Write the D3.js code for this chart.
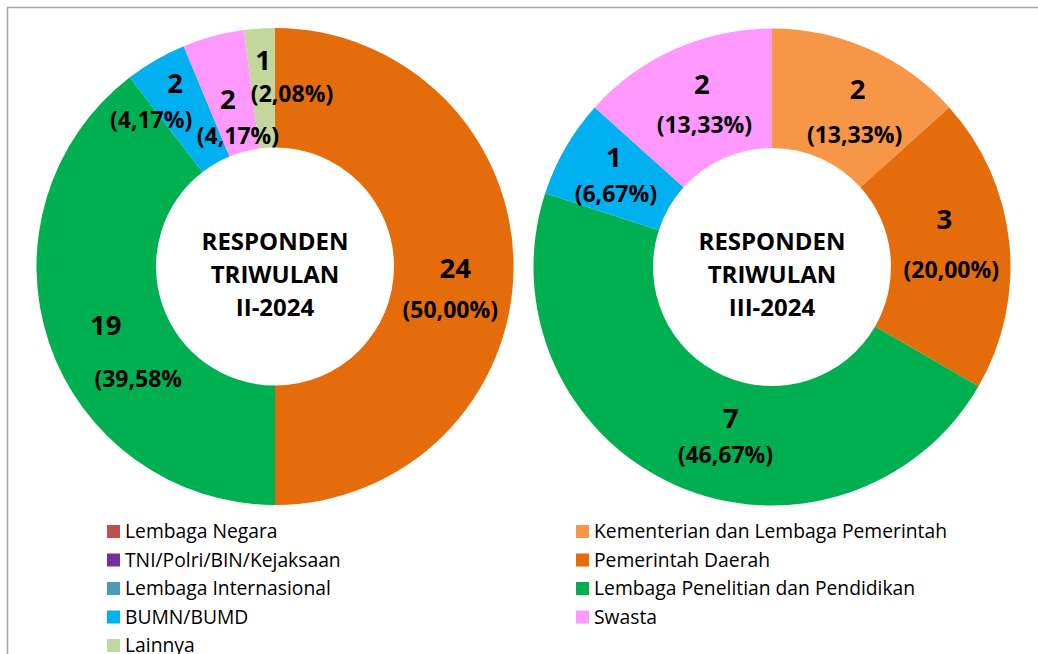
<!DOCTYPE html>
<html>
<head>
<meta charset="utf-8">
<script src="https://cdn.jsdelivr.net/npm/d3@7"></script>
<style>
  body { margin: 0; background: #fff; }
  svg  { display: block; font-family: "Open Sans", sans-serif; }
</style>
</head>
<body>
<svg id="chart"></svg>
<script>
// ── Data ─────────────────────────────────────────────────────────────────────
// Series order follows the Excel legend (row-major, two columns).
const CATEGORIES = [
  "Lembaga Negara",
  "Kementerian dan Lembaga Pemerintah",
  "TNI/Polri/BIN/Kejaksaan",
  "Pemerintah Daerah",
  "Lembaga Internasional",
  "Lembaga Penelitian dan Pendidikan",
  "BUMN/BUMD",
  "Swasta",
  "Lainnya"
];
const Q2_VALUES = [0, 0, 0, 24, 0, 19, 2, 2, 1];
const Q3_VALUES = [0, 2, 0, 3, 0, 7, 1, 2, 0];

// percentage labels as printed (the 39,58 one is cut off in the source)
const Q2_PCT_LABELS = ["", "", "", "(50,00%)", "", "(39,58%", "(4,17%)", "(4,17%)", "(2,08%)"];
const Q3_PCT_LABELS = ["", "(13,33%)", "", "(20,00%)", "", "(46,67%)", "(6,67%)", "(13,33%)", ""];

const Q2_TITLE = ["RESPONDEN", "TRIWULAN", "II-2024"];
const Q3_TITLE = ["RESPONDEN", "TRIWULAN", "III-2024"];

// ── Style ────────────────────────────────────────────────────────────────────
const COLORS = ["#C0504D", "#F79646", "#7030A0", "#E46C0A", "#4A9BB5",
                "#00B050", "#00B0F0", "#FF99FF", "#C3D69B"];
const color = d3.scaleOrdinal().domain(CATEGORIES).range(COLORS);

// Excel labels were dragged by hand: [numDx, numDy, pctDx, pctDy] from centroid
const Q2_NUDGE = { 3: [1.5, 11.5, -3.5, 51.5], 5: [0, 11, 32.5, 63],
                   6: [-10.5, -19, -34.5, 16], 7: [-0.8, 15, 9.2, 50], 8: [-0.3, -18.4, 28.7, 13.6] };
const Q3_NUDGE = { 1: [12.9, -4.9, 9.9, 39.1], 3: [-5.5, -19.3, 1.5, 29.7], 5: [31.6, -2.1, 26.1, 32.9],
                   6: [-3.4, -10.75, -1.4, 24.25], 7: [2.6, -9.9, 5.1, 29.1] };

const VW = 1038, VH = 654;
const R_OUT = 238.5, R_IN = 119;

const svg = d3.select("#chart").attr("width", VW).attr("height", VH);

// chart area frame (right/bottom edges fall outside the crop)
svg.append("rect")
  .attr("x", 7.5).attr("y", 7.5)
  .attr("width", VW + 20).attr("height", VH + 20)
  .attr("fill", "none").attr("stroke", "#A6A6A6").attr("stroke-width", 1.5);

const pie = d3.pie().sort(null).value(d => d.value);
const arc = d3.arc().innerRadius(R_IN).outerRadius(R_OUT);

function drawDonut(cx, cy, values, pctLabels, title, nudge) {
  const rows = CATEGORIES.map((c, i) => ({ cat: c, i, value: values[i], pct: pctLabels[i] }));
  const g = svg.append("g").attr("transform", `translate(${cx},${cy})`);

  const arcs = pie(rows);
  g.selectAll("path.slice")
    .data(arcs.filter(d => d.data.value > 0))
    .join("path")
    .attr("class", "slice")
    .attr("d", arc)
    .attr("fill", d => color(d.data.cat));

  // value + percentage labels
  const lbl = g.selectAll("g.lbl")
    .data(arcs.filter(d => d.data.value > 0))
    .join("g")
    .attr("class", "lbl")
    .attr("transform", d => `translate(${arc.centroid(d)})`);

  lbl.append("text")
    .attr("x", d => nudge[d.data.i][0])
    .attr("y", d => nudge[d.data.i][1])
    .attr("text-anchor", "middle")
    .attr("font-size", "27.5px").attr("font-weight", "bold").attr("fill", "#000")
    .text(d => d.data.value);

  lbl.append("text")
    .attr("x", d => nudge[d.data.i][2])
    .attr("y", d => nudge[d.data.i][3])
    .attr("text-anchor", "middle")
    .attr("font-size", "23px").attr("font-weight", "bold").attr("fill", "#000")
    .text(d => d.data.pct);

  // centre title
  g.append("text")
    .attr("text-anchor", "middle")
    .attr("font-size", "24px").attr("font-weight", "bold").attr("fill", "#000")
    .selectAll("tspan")
    .data(title)
    .join("tspan")
    .attr("x", 0)
    .attr("y", (d, i) => -17 + i * 33)
    .text(d => d);
}

drawDonut(275, 266.5, Q2_VALUES, Q2_PCT_LABELS, Q2_TITLE, Q2_NUDGE);
drawDonut(772, 267,   Q3_VALUES, Q3_PCT_LABELS, Q3_TITLE, Q3_NUDGE);

// ── Legend: two columns, filled row by row ───────────────────────────────────
const LEG = { x0: 107, colW: 469, y0: 531.5, rowH: 28.5, sw: 13 };
const leg = svg.append("g").selectAll("g")
  .data(CATEGORIES)
  .join("g")
  .attr("transform", (d, i) =>
    `translate(${LEG.x0 + (i % 2) * LEG.colW},${LEG.y0 + Math.floor(i / 2) * LEG.rowH})`);

leg.append("rect")
  .attr("y", -LEG.sw / 2)
  .attr("width", LEG.sw).attr("height", LEG.sw)
  .attr("fill", d => color(d));

leg.append("text")
  .attr("x", 18).attr("y", 6.5)
  .attr("font-size", "19.3px").attr("fill", "#000")
  .text(d => d);
</script>
</body>
</html>
